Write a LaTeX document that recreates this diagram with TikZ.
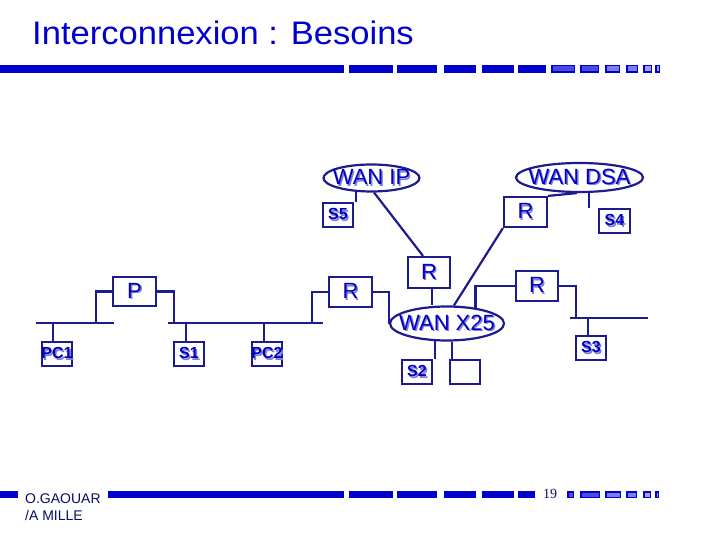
\documentclass[tikz,border=0pt]{standalone}
\usepackage{fontspec}
\setmainfont{Liberation Sans}
\newfontfamily\seriffont{Liberation Serif}
\usetikzlibrary{shapes.geometric,calc}
\definecolor{barblue}{RGB}{0,0,204}
\definecolor{lineblue}{RGB}{28,28,140}
\definecolor{txtblue}{RGB}{0,0,195}
\definecolor{shadowc}{RGB}{125,125,215}
\definecolor{lightA}{RGB}{75,75,225}
\definecolor{lightB}{RGB}{125,125,235}
\definecolor{lightC}{RGB}{160,160,240}
\definecolor{footc}{RGB}{10,10,100}
\newcommand\shtxt[1]{\makebox[0pt][l]{\hspace{1.4pt}\raisebox{-1.4pt}{\color{shadowc}#1}}#1}
\newcommand\ctxt[1]{\makebox[0pt]{\shtxt{#1}}}
\begin{document}
\begin{tikzpicture}[x=1pt,y=-1pt,
  conn/.style={draw=lineblue,line width=2.2pt},
  box/.style={draw=lineblue,line width=2.2pt,inner sep=0pt,text=txtblue,font=\fontsize{22}{22}\selectfont},
  sbox/.style={box,minimum width=30pt,minimum height=24pt,font=\bfseries\fontsize{16}{16}\selectfont},
  rbox/.style={box,minimum width=43pt,minimum height=30pt},
  wan/.style={ellipse,draw=lineblue,line width=2.2pt,inner sep=0pt,text=txtblue,font=\fontsize{22}{22}\selectfont},
  dark/.style={fill=barblue},
  liteA/.style={draw=barblue,line width=1.5pt,fill=lightA},
  liteB/.style={draw=barblue,line width=1.5pt,fill=lightB},
  liteC/.style={draw=barblue,line width=1.5pt,fill=lightC},
]
\useasboundingbox (0,0) rectangle (720,540);

% title
\node[anchor=base west,inner sep=0pt,text=barblue,font=\fontsize{32.6}{33}\selectfont] (title) at (32,45) {\scalebox{1.06}[1]{Interconnexion : Besoins}};

% top bar
\foreach \a/\b in {0/344,349/393,397/437,444/476,482/514,518/546}
  \fill[dark] (\a,65) rectangle (\b,73);
\foreach \a/\b in {551/575,580/599}
  \filldraw[liteA] (\a+0.75,65.75) rectangle (\b-0.75,72.25);
\foreach \a/\b in {605/620,626/638}
  \filldraw[liteB] (\a+0.75,65.75) rectangle (\b-0.75,72.25);
\filldraw[liteC] (643.75,65.75) rectangle (651.25,72.25);
\filldraw[liteC] (655.75,65.75) rectangle (659.25,72.25);

% bottom bar
\foreach \a/\b in {0/18,108/344,349/393,397/437,444/476,482/514,518/535}
  \fill[dark] (\a,491) rectangle (\b,498);
\filldraw[liteA] (567.75,491.75) rectangle (573.25,497.25);
\filldraw[liteA] (580.75,491.75) rectangle (599.25,497.25);
\foreach \a/\b in {605/621,626/637}
  \filldraw[liteB] (\a+0.75,491.75) rectangle (\b-0.75,497.25);
\filldraw[liteC] (643.75,491.75) rectangle (650.25,497.25);
\filldraw[liteC] (655.75,491.75) rectangle (658.25,497.25);

% footer
\node[anchor=base west,inner sep=0pt,text=footc,font=\fontsize{14}{14}\selectfont] (auth1) at (25,503) {O.GAOUAR};
\node[anchor=base west,inner sep=0pt,text=footc,font=\fontsize{14}{14}\selectfont] (auth2) at (25,520) {/A MILLE};
\node[anchor=base west,inner sep=0pt,text=footc,font=\seriffont\fontsize{14}{14}\selectfont] (page) at (543,498) {19};

% WAN clouds
\node[wan,minimum width=96pt,minimum height=27pt] (IP) at (371.5,178) {\ctxt{WAN IP}};
\node[wan,minimum width=127pt,minimum height=29pt] (DSA) at (579.5,177.5) {\ctxt{WAN DSA}};
\node[wan,minimum width=114pt,minimum height=34pt] (X25) at (447,323.5) {\ctxt{WAN X25}};

% routers
\node[rbox,minimum height=29pt] (P) at (134.5,291.5) {\ctxt{P}};
\node[rbox] (R1) at (350.5,292) {\ctxt{R}};
\node[rbox,minimum width=42pt,minimum height=31pt] (R2) at (429,272.5) {\ctxt{R}};
\node[rbox] (R3) at (525.5,212) {\ctxt{R}};
\node[rbox,minimum width=42pt] (R4) at (537,286) {\ctxt{R}};

% stations
\node[sbox] (S5) at (338,215) {\ctxt{S5}};
\node[sbox,minimum width=31pt] (S4) at (614.5,221) {\ctxt{S4}};
\node[sbox] (PC1) at (57,354) {\ctxt{PC1}};
\node[sbox] (S1) at (189,354) {\ctxt{S1}};
\node[sbox] (PC2) at (267,354) {\ctxt{PC2}};
\node[sbox] (S3) at (591,348) {\ctxt{S3}};
\node[sbox] (S2) at (417,372) {\ctxt{S2}};
\node[sbox] (E) at (465,372) {};

% buses
\coordinate (b1a) at (36,323);
\coordinate (b1b) at (114,323);
\coordinate (b2a) at (168,323);
\coordinate (b2b) at (323,323);
\coordinate (b3a) at (570,318);
\coordinate (b3b) at (648,318);
\coordinate (tP1) at (96,323);
\coordinate (tP2) at (174,323);
\coordinate (tR1) at (312,323);
\coordinate (tR4) at (576,318);
\draw[conn] (b1a) -- (b1b);
\draw[conn] (b2a) -- (b2b);
\draw[conn] (b3a) -- (b3b);

% connectors
\draw[conn] (P.west) -| (tP1);
\draw[conn] (P.east) -| (tP2);
\draw[conn] ([xshift=-4pt]PC1.north) -- ([xshift=-4pt]PC1.north |- b1a);
\draw[conn] ([xshift=-3pt]S1.north) -- ([xshift=-3pt]S1.north |- b2a);
\draw[conn] ([xshift=-3pt]PC2.north) -- ([xshift=-3pt]PC2.north |- b2a);
\draw[conn] (tR1) |- (R1.west);
\draw[conn] (R1.east) -| (X25.west);
\draw[conn] (IP.-80) -- ([xshift=-6pt]R2.north);
\draw[conn] ([xshift=3pt]R2.south) -- ([xshift=3pt]R2.south |- X25.north);
\draw[conn] (R3.south west) -- (X25.69);
\draw[conn] (R3.north east) -- (DSA.-99);
\draw[conn] (IP.-138) -- (IP.-138 |- S5.north);
\draw[conn] (DSA.-59) -- (DSA.-59 |- S4.north);
\draw[conn] (X25.29) |- (R4.west);
\draw[conn] (R4.east) -| (tR4);
\draw[conn] ([xshift=-3pt]S3.north) -- ([xshift=-3pt]S3.north |- b3a);
\draw[conn] (X25.-125) -- (X25.-125 |- S2.north);
\draw[conn] (X25.-74) -- (X25.-74 |- E.north);
\end{tikzpicture}
\end{document}
